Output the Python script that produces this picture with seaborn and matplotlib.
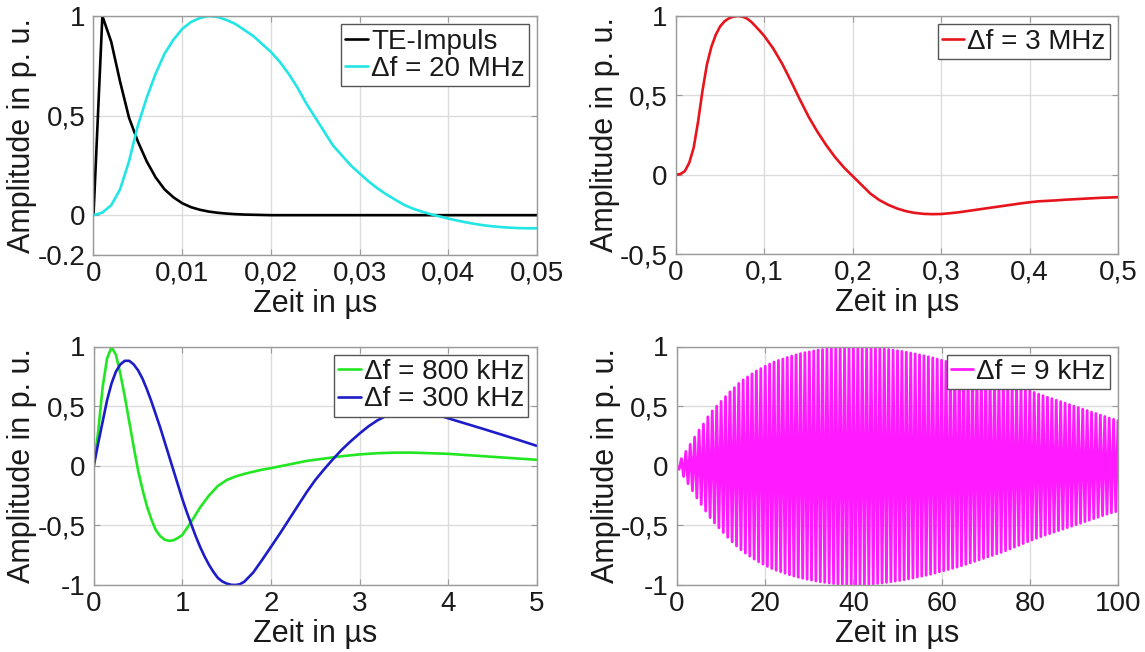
import numpy as np
import pandas as pd
import matplotlib
matplotlib.use("Agg")
import matplotlib.pyplot as plt
import seaborn as sns

# ---------------- data (time in µs, amplitude in p. u.) ----------------
# TE pulse and 20 MHz filter response
t_te = [0.000, 0.001, 0.002, 0.003, 0.004, 0.005, 0.006, 0.007, 0.008, 0.009,
        0.010, 0.011, 0.012, 0.013, 0.014, 0.015, 0.016, 0.017, 0.018, 0.019,
        0.020, 0.025, 0.030, 0.035, 0.040, 0.045, 0.050]
y_te = [0.000, 1.000, 0.870, 0.670, 0.490, 0.370, 0.270, 0.190, 0.130, 0.090,
        0.060, 0.040, 0.027, 0.018, 0.012, 0.008, 0.005, 0.003, 0.002, 0.001,
        0.000, 0.000, 0.000, 0.000, 0.000, 0.000, 0.000]

t_20m = [0.000, 0.001, 0.002, 0.003, 0.004, 0.005, 0.006, 0.007, 0.008, 0.009,
         0.010, 0.011, 0.012, 0.013, 0.014, 0.015, 0.016, 0.017, 0.018, 0.019,
         0.020, 0.021, 0.022, 0.023, 0.024, 0.025, 0.026, 0.027, 0.028, 0.029,
         0.030, 0.031, 0.032, 0.033, 0.034, 0.035, 0.036, 0.037, 0.038, 0.039,
         0.040, 0.041, 0.042, 0.043, 0.044, 0.045, 0.046, 0.047, 0.048, 0.049,
         0.050]
y_20m = [0.000, 0.013, 0.050, 0.130, 0.270, 0.450, 0.590, 0.710, 0.810, 0.880,
         0.935, 0.970, 0.990, 1.000, 0.995, 0.980, 0.960, 0.930, 0.900, 0.860,
         0.820, 0.770, 0.710, 0.640, 0.560, 0.490, 0.420, 0.350, 0.300, 0.250,
         0.210, 0.170, 0.135, 0.105, 0.078, 0.052, 0.033, 0.018, 0.005, -0.006,
         -0.017, -0.027, -0.036, -0.044, -0.051, -0.056, -0.060, -0.063, -0.065, -0.066,
         -0.066]

# 3 MHz filter response
t_3m = [0.000, 0.005, 0.010, 0.015, 0.020, 0.025, 0.030, 0.035, 0.040, 0.045,
        0.050, 0.055, 0.060, 0.065, 0.070, 0.075, 0.080, 0.085, 0.090, 0.095,
        0.100, 0.110, 0.120, 0.130, 0.140, 0.150, 0.160, 0.170, 0.180, 0.190,
        0.200, 0.210, 0.220, 0.230, 0.240, 0.250, 0.260, 0.270, 0.280, 0.290,
        0.300, 0.310, 0.320, 0.330, 0.340, 0.350, 0.360, 0.370, 0.380, 0.390,
        0.400, 0.410, 0.420, 0.430, 0.440, 0.450, 0.460, 0.470, 0.480, 0.490,
        0.500]
y_3m = [0.000, 0.004, 0.022, 0.075, 0.170, 0.335, 0.530, 0.695, 0.805, 0.882,
        0.935, 0.967, 0.986, 0.996, 1.000, 0.996, 0.985, 0.964, 0.935, 0.905,
        0.873, 0.795, 0.700, 0.590, 0.475, 0.365, 0.270, 0.185, 0.110, 0.045,
        -0.010, -0.065, -0.120, -0.160, -0.190, -0.213, -0.230, -0.241, -0.247, -0.249,
        -0.248, -0.243, -0.237, -0.229, -0.221, -0.213, -0.205, -0.197, -0.189, -0.181,
        -0.174, -0.168, -0.165, -0.162, -0.158, -0.155, -0.152, -0.149, -0.146, -0.144,
        -0.142]

# 800 kHz and 300 kHz filter responses
t_800k = [0.00, 0.05, 0.10, 0.15, 0.20, 0.25, 0.30, 0.35, 0.40, 0.45,
          0.50, 0.55, 0.60, 0.65, 0.70, 0.75, 0.80, 0.85, 0.90, 0.95,
          1.00, 1.10, 1.20, 1.30, 1.40, 1.50, 1.60, 1.70, 1.80, 1.90,
          2.00, 2.20, 2.40, 2.60, 2.80, 3.00, 3.20, 3.40, 3.60, 3.80,
          4.00, 4.20, 4.40, 4.60, 4.80, 5.00]
y_800k = [0.000, 0.290, 0.660, 0.900, 0.995, 0.930, 0.770, 0.580, 0.370, 0.160,
          -0.040, -0.200, -0.340, -0.450, -0.540, -0.590, -0.620, -0.630, -0.625, -0.605,
          -0.580, -0.470, -0.350, -0.250, -0.170, -0.120, -0.090, -0.068, -0.050, -0.033,
          -0.020, 0.010, 0.040, 0.060, 0.080, 0.095, 0.105, 0.110, 0.110, 0.105,
          0.100, 0.090, 0.080, 0.070, 0.060, 0.050]

t_300k = [0.00, 0.05, 0.10, 0.15, 0.20, 0.25, 0.30, 0.35, 0.40, 0.45,
          0.50, 0.55, 0.60, 0.65, 0.70, 0.75, 0.80, 0.85, 0.90, 0.95,
          1.00, 1.05, 1.10, 1.15, 1.20, 1.25, 1.30, 1.35, 1.40, 1.45,
          1.50, 1.55, 1.60, 1.65, 1.70, 1.80, 1.90, 2.00, 2.10, 2.20,
          2.30, 2.40, 2.50, 2.60, 2.70, 2.80, 2.90, 3.00, 3.10, 3.20,
          3.30, 3.40, 3.50, 3.60, 3.70, 3.80, 3.90, 4.00, 4.20, 4.40,
          4.60, 4.80, 5.00]
y_300k = [0.000, 0.190, 0.370, 0.550, 0.690, 0.790, 0.850, 0.880, 0.880, 0.850,
          0.800, 0.730, 0.640, 0.540, 0.430, 0.320, 0.200, 0.080, -0.040, -0.160,
          -0.280, -0.390, -0.490, -0.590, -0.680, -0.760, -0.830, -0.890, -0.940, -0.970,
          -0.988, -0.998, -1.000, -0.993, -0.972, -0.895, -0.790, -0.680, -0.570, -0.455,
          -0.340, -0.225, -0.120, -0.030, 0.055, 0.135, 0.205, 0.270, 0.330, 0.380,
          0.418, 0.443, 0.457, 0.460, 0.455, 0.442, 0.422, 0.398, 0.353, 0.308,
          0.262, 0.215, 0.167]

# 9 kHz filter response: positive peaks at whole µs, negative peaks half-way between
peak_pos_9k = [0.000, 0.060, 0.120, 0.180, 0.240, 0.300, 0.350, 0.410, 0.460, 0.500,
               0.540, 0.580, 0.620, 0.655, 0.690, 0.720, 0.745, 0.770, 0.795, 0.815,
               0.835, 0.853, 0.870, 0.883, 0.895, 0.908, 0.920, 0.930, 0.940, 0.948,
               0.955, 0.963, 0.970, 0.975, 0.980, 0.985, 0.990, 0.993, 0.995, 0.998,
               1.000, 0.999, 0.998, 0.996, 0.993, 0.989, 0.985, 0.980, 0.975, 0.970,
               0.965, 0.959, 0.952, 0.945, 0.938, 0.930, 0.922, 0.914, 0.905, 0.895,
               0.885, 0.875, 0.865, 0.855, 0.845, 0.833, 0.820, 0.808, 0.795, 0.783,
               0.770, 0.758, 0.745, 0.733, 0.720, 0.705, 0.690, 0.675, 0.660, 0.645,
               0.630, 0.615, 0.600, 0.588, 0.575, 0.563, 0.550, 0.538, 0.525, 0.513,
               0.500, 0.488, 0.475, 0.463, 0.450, 0.438, 0.425, 0.413, 0.400, 0.390,
               0.380]
peak_neg_9k = [-0.030, -0.090, -0.150, -0.210, -0.270, -0.325, -0.380, -0.435, -0.480, -0.520,
               -0.560, -0.600, -0.638, -0.673, -0.705, -0.733, -0.758, -0.783, -0.805, -0.825,
               -0.844, -0.862, -0.877, -0.889, -0.902, -0.914, -0.925, -0.935, -0.944, -0.952,
               -0.959, -0.967, -0.973, -0.978, -0.983, -0.988, -0.992, -0.994, -0.997, -0.999,
               -1.000, -0.999, -0.997, -0.995, -0.991, -0.987, -0.983, -0.978, -0.973, -0.968,
               -0.962, -0.956, -0.949, -0.942, -0.934, -0.926, -0.918, -0.910, -0.900, -0.890,
               -0.880, -0.870, -0.860, -0.850, -0.839, -0.827, -0.814, -0.802, -0.789, -0.777,
               -0.764, -0.752, -0.739, -0.727, -0.713, -0.698, -0.683, -0.668, -0.653, -0.638,
               -0.623, -0.608, -0.594, -0.582, -0.569, -0.557, -0.544, -0.532, -0.519, -0.507,
               -0.494, -0.482, -0.469, -0.457, -0.444, -0.432, -0.419, -0.407, -0.395, -0.385]
t_pos_9k = np.arange(len(peak_pos_9k), dtype=float)
t_neg_9k = np.arange(len(peak_neg_9k), dtype=float) + 0.5

# ---------------- styling ----------------
sns.set_theme(style="white")
plt.rcParams["font.family"] = ["Liberation Sans", "DejaVu Sans"]
plt.rcParams["axes.unicode_minus"] = False

TICK_FS = 20
LABEL_FS = 22
LEGEND_FS = 20
TEXT = "#1a1a1a"
GRID = "#dcdcdc"
FRAME = "#9a9a9a"
LW = 1.9

fig = plt.figure(figsize=(11.45, 6.52), dpi=100)
W, H = 1145.0, 652.0


def make_axes(x0, x1, y0, y1):
    return fig.add_axes([x0 / W, 1 - y1 / H, (x1 - x0) / W, (y1 - y0) / H])


def style_axes(ax, xlim, ylim, xticks, xlabels, yticks, ylabels):
    ax.set_xlim(*xlim)
    ax.set_ylim(*ylim)
    ax.set_xticks(xticks)
    ax.set_xticklabels(xlabels)
    ax.set_yticks(yticks)
    ax.set_yticklabels(ylabels)
    ax.grid(True, color=GRID, linewidth=1.0)
    ax.set_axisbelow(True)
    for sp in ax.spines.values():
        sp.set_color(FRAME)
        sp.set_linewidth(1.0)
    ax.tick_params(direction="in", length=4, width=0.8, color=FRAME,
                   labelsize=TICK_FS, labelcolor=TEXT,
                   top=True, right=True, bottom=True, left=True)
    ax.tick_params(axis="x", pad=4)
    ax.tick_params(axis="y", pad=6)
    ax.set_xlabel("Zeit in µs", fontsize=LABEL_FS, color=TEXT, labelpad=2)
    ax.set_ylabel("Amplitude in p. u.", fontsize=LABEL_FS, color=TEXT, labelpad=0)


def add_legend(ax):
    leg = ax.legend(loc="upper right", fontsize=LEGEND_FS, frameon=True, fancybox=False,
                    framealpha=1.0, edgecolor="#555555", borderpad=0.15,
                    labelspacing=0.05, handlelength=0.8, handletextpad=0.12,
                    borderaxespad=0.3)
    leg.get_frame().set_linewidth(1.0)
    for txt in leg.get_texts():
        txt.set_color(TEXT)


def draw(ax, t, y, color, label, lw=LW):
    df = pd.DataFrame({"t": t, "y": y}).sort_values("t")
    sns.lineplot(data=df, x="t", y="y", ax=ax, color=color, linewidth=lw,
                 label=label, sort=False, estimator=None)


# top left
ax1 = make_axes(93.5, 537, 16, 255)
draw(ax1, t_te, y_te, "black", "TE-Impuls")
draw(ax1, t_20m, y_20m, "#22e5e5", "Δf = 20 MHz")
style_axes(ax1, (0, 0.05), (-0.2, 1.0),
           [0, 0.01, 0.02, 0.03, 0.04, 0.05], ["0", "0,01", "0,02", "0,03", "0,04", "0,05"],
           [-0.2, 0, 0.5, 1], ["-0.2", "0", "0,5", "1"])
add_legend(ax1)

# top right
ax2 = make_axes(676, 1118, 16, 254)
draw(ax2, t_3m, y_3m, "#e8141c", "Δf = 3 MHz")
style_axes(ax2, (0, 0.5), (-0.5, 1.0),
           [0, 0.1, 0.2, 0.3, 0.4, 0.5], ["0", "0,1", "0,2", "0,3", "0,4", "0,5"],
           [-0.5, 0, 0.5, 1], ["-0,5", "0", "0,5", "1"])
add_legend(ax2)

# bottom left
ax3 = make_axes(93.8, 536.7, 346.5, 585)
draw(ax3, t_800k, y_800k, "#22e622", "Δf = 800 kHz")
draw(ax3, t_300k, y_300k, "#1c1cc8", "Δf = 300 kHz")
style_axes(ax3, (0, 5), (-1, 1),
           [0, 1, 2, 3, 4, 5], ["0", "1", "2", "3", "4", "5"],
           [-1, -0.5, 0, 0.5, 1], ["-1", "-0,5", "0", "0,5", "1"])
add_legend(ax3)

# bottom right: dense oscillation drawn through its alternating peaks
ax4 = make_axes(677, 1118, 346.5, 585)
draw(ax4, np.concatenate([t_pos_9k, t_neg_9k]), np.concatenate([peak_pos_9k, peak_neg_9k]),
     "#ff1aff", "Δf = 9 kHz", lw=2.0)
style_axes(ax4, (0, 100), (-1, 1),
           [0, 20, 40, 60, 80, 100], ["0", "20", "40", "60", "80", "100"],
           [-1, -0.5, 0, 0.5, 1], ["-1", "-0,5", "0", "0,5", "1"])
add_legend(ax4)

fig.savefig("out.png", dpi=100)
